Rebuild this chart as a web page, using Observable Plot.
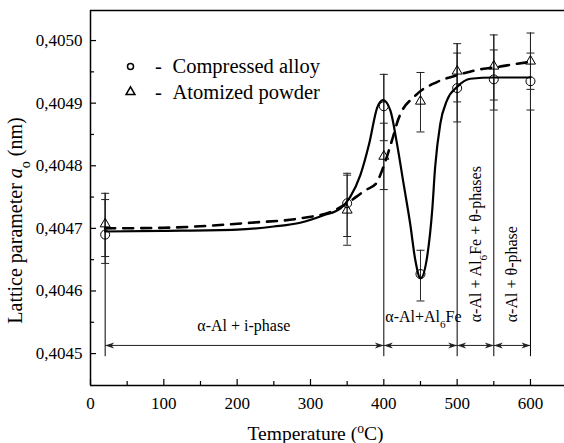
<!DOCTYPE html>
<html><head><meta charset="utf-8">
<script src="https://cdn.jsdelivr.net/npm/d3@7"></script>
<script src="https://cdn.jsdelivr.net/npm/@observablehq/plot@0.6"></script>
<style>body{margin:0;background:#fff} svg{display:block}</style>
</head><body><div id="chart"></div>
<script>
// ---- data ----
const temps = [20, 350, 400, 450, 500, 550, 600];
const compressed     = [0.404690, 0.404740, 0.404895, 0.404627, 0.404924, 0.404938, 0.404935];
const compressedLow  = [0.404655, 0.404673, 0.404840, 0.404584, 0.404870, 0.404889, 0.404889];
const compressedHigh = [0.404746, 0.404788, 0.404946, 0.404665, 0.404980, 0.404985, 0.404980];
const atomized       = [0.404707, 0.404729, 0.404815, 0.404903, 0.404951, 0.404959, 0.404967];
const atomizedLow    = [0.404644, 0.404687, 0.404762, 0.404854, 0.404902, 0.404905, 0.404922];
const atomizedHigh   = [0.404756, 0.404785, 0.404868, 0.404949, 0.404995, 0.405009, 0.405012];

const fitCompressedT = [20, 100, 200, 250, 286, 318, 341, 354, 368, 380, 391, 399, 409, 418, 427, 436, 443, 450, 459, 466, 470, 477, 486, 500, 518, 550, 600];
const fitCompressedA = [0.404695, 0.404696, 0.404698, 0.404703, 0.404709, 0.404721, 0.404732, 0.404750, 0.404785, 0.404835, 0.404893, 0.404905, 0.404888, 0.404835, 0.404771, 0.404707, 0.404649, 0.404620, 0.404654, 0.404729, 0.404798, 0.404867, 0.404904, 0.404926, 0.404939, 0.404941, 0.404941];
const fitAtomizedT = [20, 100, 218, 286, 331, 350, 375, 389, 400, 411, 420, 443, 473, 501, 536, 550, 582, 600];
const fitAtomizedA = [0.404700, 0.404701, 0.404709, 0.404716, 0.404728, 0.404740, 0.404761, 0.404771, 0.404800, 0.404840, 0.404875, 0.404912, 0.404934, 0.404945, 0.404955, 0.404957, 0.404963, 0.404966];

const xTicks = [0, 100, 200, 300, 400, 500, 600];
const xMinorTicks = [50, 150, 250, 350, 450, 550];
const yTicks = [0.4045, 0.4046, 0.4047, 0.4048, 0.4049, 0.4050];
const yMinorTicks = [0.40455, 0.40465, 0.40475, 0.40485, 0.40495];

const phaseBounds = [20, 400, 500, 550, 600];
const phaseLabels = ["α-Al + i-phase", "α-Al+Al₆Fe", "α-Al + Al₆Fe + θ-phases", "α-Al + θ-phase"];
const seriesNames = ["Compressed alloy", "Atomized powder"];
const xTitle = "Temperature (ᵒC)";
const yTitle = "Lattice parameter 𝑎ₒ (nm)";

// ---- layout ----
const xDomain = [0, 646.4];
const yDomain = [0.404449, 0.405048];
const phaseArrowY = 0.404513;
const boundaryBottom = 0.404495;
const serif = "'Liberation Serif', 'Times New Roman', serif";

const pts = temps.map((t, i) => ({t, c: compressed[i], cl: compressedLow[i], ch: compressedHigh[i],
  a: atomized[i], al: atomizedLow[i], ah: atomizedHigh[i]}));
const fitC = fitCompressedT.map((t, i) => ({t, v: fitCompressedA[i]}));
const fitA = fitAtomizedT.map((t, i) => ({t, v: fitAtomizedA[i]}));
const caps = pts.flatMap(d => [d.cl, d.ch, d.al, d.ah].map(v => ({t: d.t, v})));
const bounds = pts.filter(d => phaseBounds.includes(d.t)).map(d => ({t: d.t, top: Math.max(d.ch, d.ah)}));
const segs = phaseBounds.slice(0, -1).map((t, i) => ({x1: t, x2: phaseBounds[i + 1]}));

const capSym = {draw(ctx) { ctx.moveTo(-4, 0); ctx.lineTo(4, 0); }};
const headRight = {draw(ctx) { ctx.moveTo(0, 0); ctx.lineTo(-9, -3); ctx.lineTo(-6.5, 0); ctx.lineTo(-9, 3); ctx.closePath(); }};
const headLeft = {draw(ctx) { ctx.moveTo(0, 0); ctx.lineTo(9, -3); ctx.lineTo(6.5, 0); ctx.lineTo(9, 3); ctx.closePath(); }};
const fmt = d => d.toFixed(4).replace(".", ",");
const txt = {fontFamily: serif, fill: "black"};

const chart = Plot.plot({
  width: 564, height: 443,
  marginLeft: 90, marginRight: 0, marginTop: 10, marginBottom: 58,
  style: {fontFamily: serif, fontSize: "17px", color: "black", background: "white"},
  x: {domain: xDomain},
  y: {domain: yDomain},
  marks: [
    // frame lines
    Plot.ruleX([xDomain[0]], {stroke: "black", strokeWidth: 1.5}),
    Plot.ruleY([yDomain[0]], {stroke: "black", strokeWidth: 1.5}),
    Plot.ruleY([yDomain[1]], {stroke: "black", strokeWidth: 1.5}),
    // inward ticks
    Plot.axisY(yTicks, {anchor: "left", tickSize: 6, dx: 6, tickFormat: () => "", label: null, strokeWidth: 1.2}),
    Plot.axisY(yMinorTicks, {anchor: "left", tickSize: 4, dx: 4, tickFormat: () => "", label: null, strokeWidth: 1.2}),
    Plot.axisY(yTicks, {anchor: "left", tickSize: 0, tickPadding: 8, tickFormat: fmt, label: null, fontSize: 17, ...txt}),
    Plot.axisX(xTicks, {anchor: "bottom", tickSize: 6, dy: -6, tickFormat: () => "", label: null, strokeWidth: 1.2}),
    Plot.axisX(xMinorTicks, {anchor: "bottom", tickSize: 4, dy: -4, tickFormat: () => "", label: null, strokeWidth: 1.2}),
    Plot.axisX(xTicks, {anchor: "bottom", tickSize: 0, tickPadding: 11, tickFormat: d => String(d), label: null, fontSize: 17, ...txt}),
    // phase boundaries and arrows
    Plot.ruleX(bounds, {x: "t", y1: "top", y2: () => boundaryBottom, stroke: "black", strokeWidth: 1}),
    Plot.link(segs, {x1: "x1", x2: "x2", y1: () => phaseArrowY, y2: () => phaseArrowY, stroke: "#222", strokeWidth: 1}),
    Plot.dot(segs, {x: "x2", y: () => phaseArrowY, symbol: headRight, fill: "#222", stroke: "none", r: 3}),
    Plot.dot(segs, {x: "x1", y: () => phaseArrowY, symbol: headLeft, fill: "#222", stroke: "none", r: 3}),
    // error bars
    Plot.ruleX(pts, {x: "t", y1: "cl", y2: "ch", stroke: "#222", strokeWidth: 1}),
    Plot.ruleX(pts, {x: "t", y1: "al", y2: "ah", stroke: "#222", strokeWidth: 1}),
    Plot.dot(caps, {x: "t", y: "v", symbol: capSym, stroke: "#222", strokeWidth: 1, r: 3}),
    // fitted curves
    Plot.line(fitC, {x: "t", y: "v", curve: "monotone-x", stroke: "black", strokeWidth: 2.2}),
    Plot.line(fitA, {x: "t", y: "v", curve: "monotone-x", stroke: "black", strokeWidth: 2.6, strokeDasharray: "10,8"}),
    // markers
    Plot.dot(pts, {x: "t", y: "c", symbol: "circle", r: 4.5, stroke: "black", strokeWidth: 1, fill: "none"}),
    Plot.dot(pts, {x: "t", y: "a", symbol: "triangle", r: 3.7, stroke: "black", strokeWidth: 1, fill: "none"}),
    // phase labels
    Plot.text([phaseLabels[0]], {x: () => 209, y: () => 0.404545, textAnchor: "middle", fontSize: 16, ...txt}),
    Plot.text([phaseLabels[1]], {x: () => 402, y: () => 0.404558, textAnchor: "start", fontSize: 16, ...txt}),
    Plot.text([phaseLabels[2]], {x: () => 525, y: () => 0.404550, rotate: -90, textAnchor: "start", fontSize: 16, ...txt}),
    Plot.text([phaseLabels[3]], {x: () => 575, y: () => 0.404550, rotate: -90, textAnchor: "start", fontSize: 16, ...txt}),
    // legend
    Plot.dot([seriesNames[0]], {frameAnchor: "top-left", dx: 40, dy: 56, symbol: "circle", r: 3, stroke: "black", fill: "none"}),
    Plot.dot([seriesNames[1]], {frameAnchor: "top-left", dx: 40, dy: 81.5, symbol: "triangle", r: 3.3, stroke: "black", fill: "none"}),
    Plot.text([seriesNames[0]], {frameAnchor: "top-left", dx: 82, dy: 56, fontSize: 20.5, textAnchor: "start", lineAnchor: "middle", ...txt}),
    Plot.text([seriesNames[1]], {frameAnchor: "top-left", dx: 82, dy: 81.5, fontSize: 20.5, textAnchor: "start", lineAnchor: "middle", ...txt}),
    Plot.text(["-"], {frameAnchor: "top-left", dx: 68, dy: 56, fontSize: 20.5, textAnchor: "middle", lineAnchor: "middle", ...txt}),
    Plot.text(["-"], {frameAnchor: "top-left", dx: 68, dy: 81.5, fontSize: 20.5, textAnchor: "middle", lineAnchor: "middle", ...txt}),
    // axis titles
    Plot.text([xTitle], {frameAnchor: "bottom", dx: -12, dy: 48.5, fontSize: 19.5, textAnchor: "middle", lineAnchor: "middle", ...txt}),
    Plot.text([yTitle], {frameAnchor: "left", dx: -75, dy: 22.5, rotate: -90, fontSize: 20, textAnchor: "middle", lineAnchor: "middle", ...txt})
  ]
});

// rich text: sub/superscripts and italic
function richify(svg) {
  const map = {"₆": ["6", "sub"], "ₒ": ["o", "sub"], "ᵒ": ["o", "super"], "𝑎": ["a", "italic"]};
  svg.querySelectorAll("text").forEach(t => {
    const tsp = t.querySelectorAll("tspan");
    const nodes = tsp.length ? [...tsp] : [t];
    nodes.forEach(n => {
      const s = n.textContent;
      if (![...s].some(ch => map[ch])) return;
      n.textContent = "";
      let buf = "";
      const flush = () => { if (buf) { n.appendChild(document.createTextNode(buf)); buf = ""; } };
      for (const ch of s) {
        if (map[ch]) {
          flush();
          const [c, kind] = map[ch];
          const ts = document.createElementNS("http://www.w3.org/2000/svg", "tspan");
          ts.textContent = c;
          if (kind === "italic") ts.setAttribute("font-style", "italic");
          else { ts.setAttribute("baseline-shift", kind); ts.setAttribute("font-size", "70%"); }
          n.appendChild(ts);
        } else buf += ch;
      }
      flush();
    });
  });
}
richify(chart);
document.getElementById("chart").appendChild(chart);
</script>
</body></html>
